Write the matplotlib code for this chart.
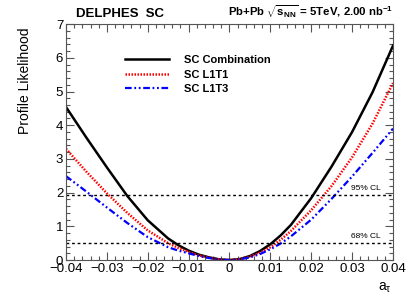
import matplotlib
matplotlib.use("Agg")
import matplotlib.pyplot as plt
from matplotlib.ticker import MultipleLocator, FixedLocator

plt.rcParams['font.family'] = ['Liberation Sans', 'DejaVu Sans']
plt.rcParams['mathtext.fontset'] = 'custom'
plt.rcParams['mathtext.rm'] = 'Liberation Sans'
plt.rcParams['mathtext.it'] = 'Liberation Sans'
plt.rcParams['mathtext.bf'] = 'Liberation Sans:bold'

a_tau = [-0.040, -0.035, -0.030, -0.025, -0.020, -0.015, -0.0125, -0.010, -0.0075,
         -0.005, -0.0025, 0.0, 0.0025, 0.005, 0.0075, 0.010, 0.0125, 0.015,
         0.020, 0.025, 0.030, 0.035, 0.040]
sc_combination = [4.54, 3.63, 2.75, 1.90, 1.18, 0.64, 0.44, 0.28, 0.16,
                  0.08, 0.02, 0.0, 0.03, 0.12, 0.27, 0.47, 0.73, 1.04,
                  1.84, 2.78, 3.80, 4.98, 6.36]
sc_l1t1 = [3.30, 2.62, 1.98, 1.40, 0.88, 0.50, 0.36, 0.24, 0.14,
           0.07, 0.02, 0.0, 0.025, 0.10, 0.22, 0.38, 0.60, 0.86,
           1.48, 2.20, 3.05, 4.05, 5.25]
sc_l1t3 = [2.49, 2.03, 1.56, 1.10, 0.68, 0.38, 0.28, 0.20, 0.12,
           0.06, 0.015, 0.0, 0.02, 0.08, 0.18, 0.32, 0.49, 0.70,
           1.20, 1.82, 2.48, 3.18, 3.90]
cl_levels = [1.92, 0.5]
cl_labels = ["95% CL", "68% CL"]
x_ticks = [-0.04, -0.03, -0.02, -0.01, 0.0, 0.01, 0.02, 0.03, 0.04]
x_tick_labels = ["\u22120.04", "\u22120.03", "\u22120.02", "\u22120.01", "0",
                 "0.01", "0.02", "0.03", "0.04"]

fig = plt.figure(figsize=(4.15, 3.01), dpi=100)
ax = fig.add_axes([0.159, 0.136, 0.788, 0.784])

ax.plot(a_tau, sc_combination, color='black', lw=1.8, label='SC Combination')
ax.plot(a_tau, sc_l1t1, color='red', lw=1.8, linestyle=(0, (0.6, 0.6)), label='SC L1T1')
ax.plot(a_tau, sc_l1t3, color='blue', lw=1.6,
        linestyle=(0, (3, 1.2, 0.8, 1.2, 0.8, 1.2)), label='SC L1T3')

for lev, lab in zip(cl_levels, cl_labels):
    ax.axhline(lev, color='black', lw=1.0, linestyle=(0, (2, 2)))
    ax.text(0.0333, lev + 0.1, lab, fontsize=6, ha='center', va='bottom')

ax.set_xlim(-0.04, 0.04)
ax.set_ylim(0, 7)
ax.xaxis.set_major_locator(FixedLocator(x_ticks))
ax.set_xticklabels(x_tick_labels)
ax.xaxis.set_minor_locator(MultipleLocator(0.002))
ax.yaxis.set_major_locator(MultipleLocator(1))
ax.yaxis.set_minor_locator(MultipleLocator(0.2))
ax.tick_params(which='both', direction='in', top=True, right=True, labelsize=9.5,
               width=0.8, color='#555555')
ax.tick_params(which='major', length=6)
ax.tick_params(which='minor', length=3)
ax.tick_params(axis='x', pad=2)
ax.tick_params(axis='y', pad=2)
for s in ax.spines.values():
    s.set_linewidth(0.8)
    s.set_color('#555555')

ax.set_ylabel('Profile Likelihood', fontsize=10, labelpad=9)
ax.yaxis.set_label_coords(-0.105, 0.76)
fig.text(0.928, 0.035, r'a$_\tau$', fontsize=10, ha='center', va='baseline')

fig.text(0.183, 0.945, 'DELPHES  SC', fontsize=9.5, fontweight='bold', ha='left')
fig.text(0.947, 0.945, r'Pb+Pb $\sqrt{\mathbf{s}_{\mathbf{NN}}}$ = 5TeV, 2.00 nb$^{\mathbf{-1}}$',
         fontsize=8.2, fontweight='bold', ha='right')

leg = ax.legend(loc='upper left', bbox_to_anchor=(0.15, 0.91), frameon=False,
                handlelength=4.0, handletextpad=1.3, labelspacing=0.4,
                prop={'weight': 'bold', 'size': 8})

fig.savefig('out.png', dpi=100)
